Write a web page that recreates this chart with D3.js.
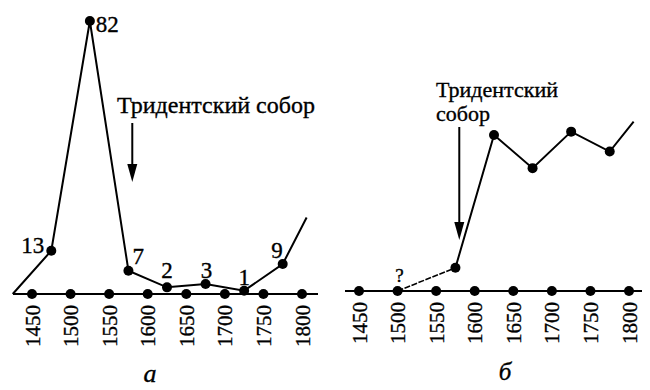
<!DOCTYPE html>
<html><head><meta charset="utf-8">
<script src="https://cdn.jsdelivr.net/npm/d3@7"></script>
<style>body{margin:0;background:#fff}svg{display:block}svg text{stroke:#000;stroke-width:0.35px}</style>
</head><body>
<svg id="c" width="650" height="390"></svg>
<script>
// ---- data ----
const tickYears = [1450, 1500, 1550, 1600, 1650, 1700, 1750, 1800];
const yearsA = [1475, 1525, 1575, 1625, 1675, 1725, 1775];
const valuesA = [13, 82, 7, 2, 3, 1, 9];
const labelsA = ["13", "82", "7", "2", "3", "1", "9"];
const startA = [1425, 0];
const tailA = [1806, 23];
const yearsB = [1575, 1625, 1675, 1725, 1775];
const valuesB = [7, 47, 37, 48, 42];
const tailB = [1806, 51];
const dashedB = [[1500, 0], [1575, 7]];
const councilYear = 1580;
const councilText = "Тридентский собор";
const panelLetters = ["а", "б"];

// ---- layout / style ----
const svg = d3.select("#c");
const font = "'Liberation Serif','Times New Roman',serif";
const xA = d3.scaleLinear().domain([1450, 1800]).range([32, 302]);
const yA = d3.scaleLinear().domain([0, 82]).range([294, 21]);
const xB = d3.scaleLinear().domain([1450, 1800]).range([359, 629]);
const yB = d3.scaleLinear().domain([0, 50]).range([291, 125]);
const labelOff = [[-7, 2, "end"], [6, 11, "start"], [4, -7, "start"], [0, -9, "middle"], [1, -6, "middle"], [0, -6, "middle"], [0, -6, "end"]];

function panel(x, y, axisX0, axisX1) {
  const g = svg.append("g");
  g.append("line").attr("x1", axisX0).attr("x2", axisX1)
    .attr("y1", y(0)).attr("y2", y(0)).attr("stroke", "#000").attr("stroke-width", 2);
  const ax = d3.axisBottom(x).tickValues(tickYears).tickSize(0).tickFormat(d3.format("d"));
  const ag = g.append("g").attr("transform", `translate(0,${y(0)})`).call(ax);
  ag.select(".domain").remove();
  ag.selectAll("text")
    .attr("font-family", font).attr("font-size", 21).attr("fill", "#000")
    .attr("text-anchor", "end").attr("dy", null).attr("y", 0)
    .attr("dominant-baseline", "central")
    .attr("transform", "translate(0,11) rotate(-90)");
  g.selectAll("circle.t").data(tickYears).join("circle").attr("class", "t")
    .attr("cx", d => x(d)).attr("cy", y(0)).attr("r", 5).attr("fill", "#000");
  return g;
}

function arrow(g, xp, y1, y2) {
  g.append("line").attr("x1", xp).attr("x2", xp).attr("y1", y1).attr("y2", y2 - 14)
    .attr("stroke", "#000").attr("stroke-width", 2);
  g.append("path").attr("d", `M${xp - 5},${y2 - 18} L${xp + 5},${y2 - 18} L${xp},${y2} Z`).attr("fill", "#000");
}

const line = (x, y) => d3.line().x(d => x(d[0])).y(d => y(d[1]));

// Panel a
const gA = panel(xA, yA, 13, 318);
const ptsA = [startA].concat(yearsA.map((d, i) => [d, valuesA[i]])).concat([tailA]);
gA.append("path").attr("d", line(xA, yA)(ptsA)).attr("fill", "none")
  .attr("stroke", "#000").attr("stroke-width", 2);
gA.selectAll("circle.p").data(yearsA).join("circle").attr("class", "p")
  .attr("cx", d => xA(d)).attr("cy", (d, i) => yA(valuesA[i])).attr("r", 5).attr("fill", "#000");
gA.selectAll("text.v").data(labelsA).join("text").attr("class", "v")
  .attr("x", (d, i) => xA(yearsA[i]) + labelOff[i][0])
  .attr("y", (d, i) => yA(valuesA[i]) + labelOff[i][1])
  .attr("text-anchor", (d, i) => labelOff[i][2])
  .attr("font-family", font).attr("font-size", 23).text(d => d);
gA.append("text").attr("x", 117).attr("y", 113).attr("font-family", font).attr("font-size", 24).text(councilText);
arrow(gA, xA(councilYear), 123, 182);
gA.append("text").attr("x", 150).attr("y", 382).attr("text-anchor", "middle")
  .attr("font-family", font).attr("font-style", "italic").attr("font-size", 26).text(panelLetters[0]);

// Panel b
const gB = panel(xB, yB, 345, 642);
gB.append("path").attr("d", line(xB, yB)(dashedB)).attr("fill", "none")
  .attr("stroke", "#000").attr("stroke-width", 1.6).attr("stroke-dasharray", "6,1.5");
const ptsB = yearsB.map((d, i) => [d, valuesB[i]]).concat([tailB]);
gB.append("path").attr("d", line(xB, yB)(ptsB)).attr("fill", "none")
  .attr("stroke", "#000").attr("stroke-width", 2);
gB.selectAll("circle.p").data(yearsB).join("circle").attr("class", "p")
  .attr("cx", d => xB(d)).attr("cy", (d, i) => yB(valuesB[i])).attr("r", 5).attr("fill", "#000");
gB.append("text").attr("x", xB(dashedB[0][0]) + 2).attr("y", yB(0) - 9).attr("text-anchor", "middle")
  .attr("font-family", font).attr("font-size", 19).text("?");
const words = councilText.split(" ");
const tb = gB.append("text").attr("font-family", font).attr("font-size", 22);
tb.append("tspan").attr("x", 436).attr("y", 97).text(words[0]);
tb.append("tspan").attr("x", 436).attr("y", 121).text(words[1]);
arrow(gB, xB(councilYear), 127, 240);
gB.append("text").attr("x", 505).attr("y", 380).attr("text-anchor", "middle")
  .attr("font-family", font).attr("font-style", "italic").attr("font-size", 25).text(panelLetters[1]);
</script>
</body></html>
